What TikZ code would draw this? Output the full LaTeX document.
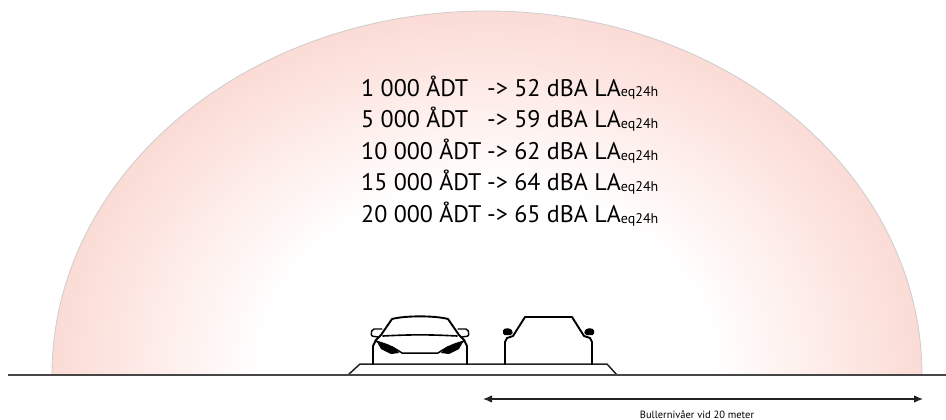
\documentclass[tikz,border=0pt]{standalone}
\usepackage{fontspec}
\setmainfont{PT Sans}
\usetikzlibrary{arrows.meta}

\definecolor{domepink}{RGB}{251,219,213}
\definecolor{domemid}{RGB}{254,240,237}
\definecolor{domeedge}{RGB}{205,205,205}
\definecolor{groundgray}{RGB}{70,70,70}
\definecolor{inkgray}{RGB}{35,35,35}

% soft pink glow that fades to white towards the road
\pgfdeclareradialshading{domeshade}{\pgfpointorigin}{%
  color(0bp)=(white); color(13bp)=(white); color(18bp)=(domemid);
  color(25bp)=(domepink); color(50bp)=(domepink)}

\newcommand{\laeqsub}{LA\raisebox{-1pt}{\fontsize{14}{14}\selectfont eq24h}}
\newcommand{\flowline}[2]{\makebox[126pt][l]{#1}-> #2 dBA \laeqsub}

\tikzset{
  flowtext/.style={anchor=base west, inner sep=0pt, font=\fontsize{24}{24}\selectfont, text=black},
  carline/.style={line width=1.9pt, line join=round, line cap=round, draw=black},
  roadline/.style={line width=1.5pt, draw=inkgray, line join=miter},
  groundline/.style={line width=2pt, draw=groundgray},
  spanarrow/.style={line width=1.2pt, draw=inkgray,
    {Latex[length=9pt,width=7.5pt]}-{Latex[length=9pt,width=7.5pt]}},
  spanlabel/.style={anchor=base, inner sep=0pt, font=\fontsize{10.5}{10.5}\selectfont, text=black}
}

\begin{document}
\begin{tikzpicture}[x=1pt,y=-1pt]
\useasboundingbox (0,0) rectangle (946,420);

% noise dome
\begin{scope}
  \clip (0,0) rectangle (946,375);
  \shade[shading=domeshade] (487,375) ellipse [x radius=435, y radius=364];
\end{scope}
\draw[domeedge, line width=0.8pt] (52,375) arc[start angle=180, end angle=360, x radius=435, y radius=364];

% traffic volumes and noise levels
\node[flowtext] (l1) at (361,96)    {\flowline{1 000 ÅDT}{52}};
\node[flowtext] (l2) at (361,127.5) {\flowline{5 000 ÅDT}{59}};
\node[flowtext] (l3) at (361,159)   {\flowline{10 000 ÅDT}{62}};
\node[flowtext] (l4) at (361,190.5) {\flowline{15 000 ÅDT}{64}};
\node[flowtext] (l5) at (361,222)   {\flowline{20 000 ÅDT}{65}};

% road platform
\draw[roadline, fill=white] (348,375) -- (360,364) -- (607,364) -- (617,375);

% car seen from the front
\draw[carline] (373,364) -- (373,346) -- (376,340) -- (381,335)
  -- (392,319) .. controls (405,315.5) and (435,315.5) .. (448,319)
  -- (459,335) -- (464,340) -- (467,346) -- (467,364);
\draw[carline, line width=1.6pt] (383,336) .. controls (410,334.5) and (430,334.5) .. (457,336);
\draw[carline, line width=1.4pt, rounded corners=2pt] (382,329) -- (372,329) -- (371,336) -- (378,337);
\draw[carline, line width=1.4pt, rounded corners=2pt] (458,329) -- (468,329) -- (469,336) -- (462,337);
\draw[carline, line width=1.5pt] (375,341) .. controls (388,344) and (396,349) .. (402,353)
  -- (438,353) .. controls (444,349) and (452,344) .. (465,341);
\fill[black] (377,342) -- (394,347) -- (399,353) -- (391,354) -- (381,349) -- cycle;
\fill[black] (463,342) -- (446,347) -- (441,353) -- (449,354) -- (459,349) -- cycle;

% car outline
\draw[carline] (505,364) -- (505,342) -- (507,338) -- (513,336) -- (525,317)
  -- (572,317) -- (584,336) -- (590,338) -- (592,342) -- (592,364);
\fill[black, rounded corners=1.5pt] (503,329) -- (509,328) -- (513,331) -- (512,335) -- (503,335) -- cycle;
\fill[black, rounded corners=1.5pt] (594,329) -- (588,328) -- (584,331) -- (585,335) -- (594,335) -- cycle;

% ground
\coordinate (gL) at (8,375);
\coordinate (gR) at (946,375);
\draw[groundline] (gL) -- (gR);

% distance marker
\coordinate (arrL) at (483,399);
\coordinate (arrR) at (923,399);
\draw[spanarrow] (arrL) -- (arrR);
\node[spanlabel] (span) at (697,418.5) {Bullernivåer vid 20 meter};
\end{tikzpicture}
\end{document}
